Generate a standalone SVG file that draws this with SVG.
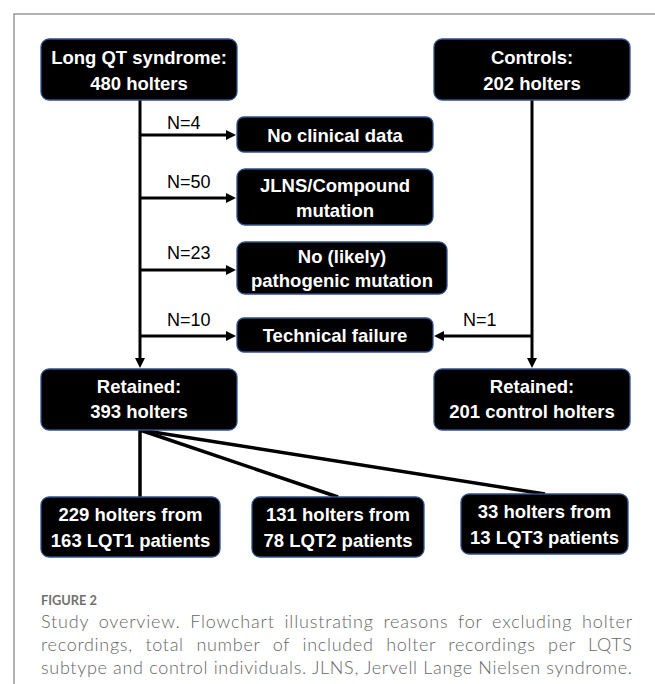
<svg xmlns="http://www.w3.org/2000/svg" width="655" height="684" viewBox="0 0 655 684">
<defs>
<style>
.box{fill:#000;stroke:#2F528F;stroke-width:1.3}
.bt{fill:#fff;font-family:"Liberation Sans",Arial,sans-serif;font-weight:bold;font-size:18.5px;text-anchor:middle}
.lbl{fill:#000;font-family:"Liberation Sans",Arial,sans-serif;font-size:18px}
.con{stroke:#000;stroke-width:3;fill:none}
.con2{stroke:#000;stroke-width:3.5;fill:none}
.cap{fill:#666;font-family:Lato,"Open Sans",sans-serif;font-size:18px;font-weight:300}
.fig{fill:#707070;font-family:Lato,"Open Sans",sans-serif;font-size:14px;font-weight:bold}
</style>
<marker id="ah" markerUnits="userSpaceOnUse" markerWidth="10" markerHeight="10" refX="2" refY="5" orient="auto">
<path d="M0,0 L10,5 L0,10 z" fill="#000"/>
</marker>
</defs>
<rect width="655" height="684" fill="#fff"/>
<path d="M14,684 V14 H655" fill="none" stroke="#999" stroke-width="1.5"/>

<g id="connectors">
<line class="con" x1="140" y1="100" x2="140" y2="360" marker-end="url(#ah)"/>
<line class="con" x1="140" y1="135" x2="228" y2="135" marker-end="url(#ah)"/>
<line class="con" x1="140" y1="198" x2="228" y2="198" marker-end="url(#ah)"/>
<line class="con" x1="140" y1="270" x2="228" y2="270" marker-end="url(#ah)"/>
<line class="con" x1="140" y1="336" x2="228" y2="336" marker-end="url(#ah)"/>
<line class="con" x1="532" y1="100" x2="532" y2="360" marker-end="url(#ah)"/>
<line class="con" x1="532" y1="336" x2="442" y2="336" marker-end="url(#ah)"/>
<line class="con2" x1="140" y1="430" x2="140" y2="497"/>
<line class="con2" x1="140" y1="430" x2="338" y2="497"/>
<line class="con2" x1="140" y1="430" x2="545" y2="494"/>
<text class="lbl" x="167" y="129">N=4</text>
<text class="lbl" x="167" y="188">N=50</text>
<text class="lbl" x="167" y="259">N=23</text>
<text class="lbl" x="167" y="326">N=10</text>
<text class="lbl" x="463" y="326">N=1</text>
</g>

<g id="lqts">
<rect class="box" x="41" y="39" width="196" height="61" rx="8"/>
<text class="bt" x="139" y="64">Long QT syndrome:</text>
<text class="bt" x="139" y="89.5">480 holters</text>
</g>
<g id="controls">
<rect class="box" x="434" y="39" width="196" height="61" rx="8"/>
<text class="bt" x="532" y="64">Controls:</text>
<text class="bt" x="532" y="89.5">202 holters</text>
</g>
<g id="noclinical">
<rect class="box" x="237" y="117" width="196" height="35" rx="7"/>
<text class="bt" x="335" y="141.5">No clinical data</text>
</g>
<g id="jlns">
<rect class="box" x="237" y="169" width="196" height="56" rx="8"/>
<text class="bt" x="335" y="192">JLNS/Compound</text>
<text class="bt" x="335" y="217">mutation</text>
</g>
<g id="nopathogenic">
<rect class="box" x="237" y="242" width="210" height="52" rx="8"/>
<text class="bt" x="342" y="263">No (likely)</text>
<text class="bt" x="342" y="287">pathogenic mutation</text>
</g>
<g id="technical">
<rect class="box" x="237" y="318" width="196" height="34" rx="7"/>
<text class="bt" x="335" y="342">Technical failure</text>
</g>
<g id="retained-lqts">
<rect class="box" x="41" y="369" width="196" height="61" rx="8"/>
<text class="bt" x="139" y="393">Retained:</text>
<text class="bt" x="139" y="418">393 holters</text>
</g>
<g id="retained-controls">
<rect class="box" x="434" y="369" width="196" height="61" rx="8"/>
<text class="bt" x="532" y="393">Retained:</text>
<text class="bt" x="532" y="418">201 control holters</text>
</g>
<g id="lqt1">
<rect class="box" x="41" y="497" width="179" height="60" rx="8"/>
<text class="bt" x="130.5" y="521">229 holters from</text>
<text class="bt" x="130.5" y="547">163 LQT1 patients</text>
</g>
<g id="lqt2">
<rect class="box" x="252" y="497" width="172" height="60" rx="8"/>
<text class="bt" x="338" y="521">131 holters from</text>
<text class="bt" x="338" y="547">78 LQT2 patients</text>
</g>
<g id="lqt3">
<rect class="box" x="461" y="494" width="167" height="60" rx="8"/>
<text class="bt" x="544.5" y="518">33 holters from</text>
<text class="bt" x="544.5" y="544">13 LQT3 patients</text>
</g>

<g id="caption">
<text class="fig" x="41" y="605" textLength="56" lengthAdjust="spacingAndGlyphs">FIGURE 2</text>
<text class="cap" x="41" y="628" word-spacing="4" textLength="591" lengthAdjust="spacing">Study overview. Flowchart illustrating reasons for excluding holter</text>
<text class="cap" x="41" y="651" word-spacing="7" textLength="591" lengthAdjust="spacing">recordings, total number of included holter recordings per LQTS</text>
<text class="cap" x="41" y="674" textLength="591" lengthAdjust="spacing">subtype and control individuals. JLNS, Jervell Lange Nielsen syndrome.</text>
</g>
</svg>
